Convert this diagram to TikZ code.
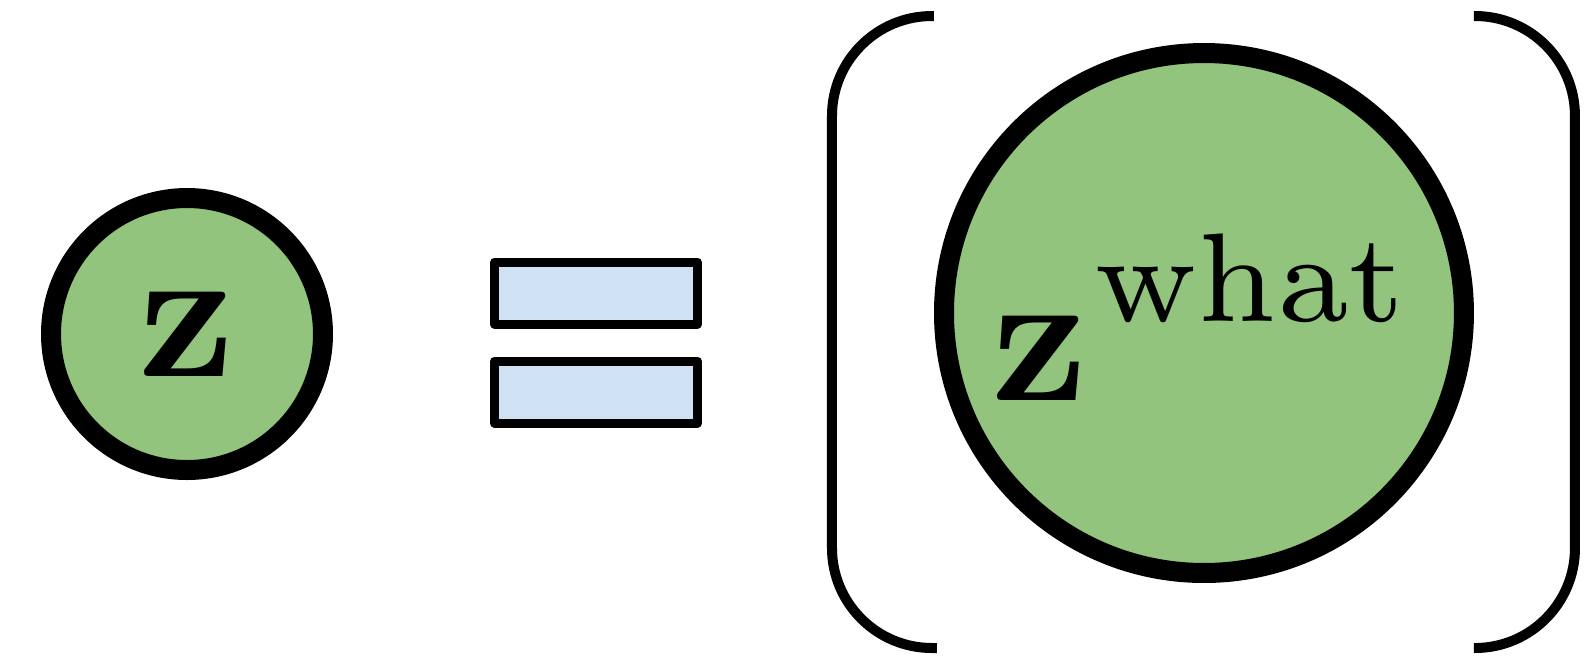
\documentclass[tikz,border=0pt]{standalone}
\usepackage{xcolor}
\definecolor{latentgreen}{HTML}{93C47D}
\definecolor{eqblue}{HTML}{CFE2F3}
\usepackage{amsmath}
\usepackage{graphicx}
\usepackage{tikz}
\usetikzlibrary{positioning}

\newcommand{\bigmath}[1]{\scalebox{1.9}{$#1$}}
\newcommand{\supword}[1]{\hspace{0.3pt}\raisebox{0.5pt}{\scalebox{0.95}{$\scriptstyle\mathrm{#1}$}}}

\begin{document}
\begin{tikzpicture}[
  x=0.1pt, y=-0.1pt,
  znode/.style={draw, circle, line width=2pt, fill=latentgreen, inner sep=0pt},
  eqbar/.style={draw, line width=0.9pt, fill=eqblue, line join=round,
                minimum width=20.3pt, minimum height=6.2pt, inner sep=0pt},
  brack/.style={line width=1pt, rounded corners=10pt}
]
  \useasboundingbox (0,0) rectangle (1588,658);

  \node[znode, minimum size=27.2pt] (z) at (187,334) {\bigmath{\mathbf{z}}};

  \node[eqbar] (eqtop) at (596,293) {};
  \node[eqbar] (eqbot) at (596,392) {};

  \node[znode, minimum size=52pt] (zbig) at (1204,313) {};
  \node[inner sep=0pt, anchor=base] (zwhat) at (1203,400)
    {\bigmath{\mathbf{z}^{\supword{what}}}};

  % brackets round the big node
  \draw[brack] (934,16) -- (832,16) -- (832,648) -- (937,648);
  \draw[brack] (1474,16) -- (1575,16) -- (1575,648) -- (1474,648);
\end{tikzpicture}
\end{document}
